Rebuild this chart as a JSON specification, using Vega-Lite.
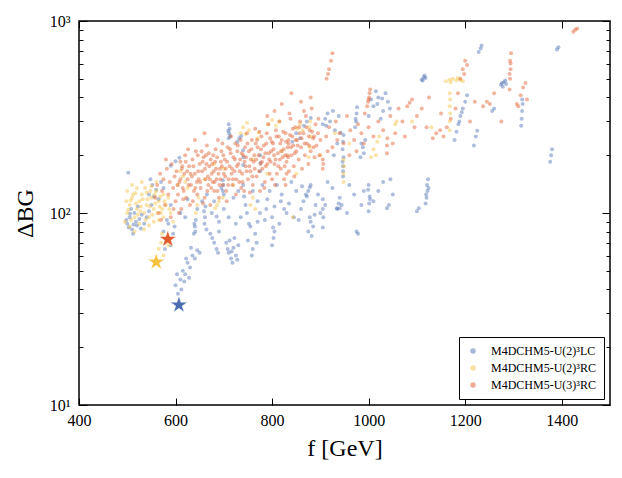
{
  "$schema": "https://vega.github.io/schema/vega-lite/v6.json",
  "width": 531,
  "height": 384,
  "autosize": "none",
  "padding": {"left": 79, "top": 21, "right": 12, "bottom": 73},
  "background": "white",
  "datasets": {
    "stars": [
      {"f": 607, "d": 33.2, "s": "LC"},
      {"f": 560, "d": 55.6, "s": "RC2"},
      {"f": 584, "d": 73, "s": "RC3"}
    ],
    "pts": [
      {"f":500,"d":88,"s":"LC"},{"f":505,"d":95,"s":"LC"},{"f":510,"d":82,"s":"LC"},{"f":498,"d":92,"s":"LC"},{"f":515,"d":100,"s":"LC"},{"f":520,"d":86,"s":"LC"},{"f":508,"d":105,"s":"LC"},{"f":525,"d":93,"s":"LC"},{"f":512,"d":78,"s":"LC"},{"f":530,"d":98,"s":"LC"},{"f":503,"d":84,"s":"LC"},{"f":518,"d":90,"s":"LC"},{"f":535,"d":88,"s":"LC"},{"f":522,"d":108,"s":"LC"},{"f":540,"d":95,"s":"LC"},{"f":545,"d":102,"s":"LC"},{"f":528,"d":83,"s":"LC"},{"f":506,"d":99,"s":"LC"},{"f":550,"d":110,"s":"LC"},{"f":513,"d":87,"s":"LC"},
      {"f":502,"d":162,"s":"LC"},
      {"f":545,"d":125,"s":"LC"},{"f":552,"d":140,"s":"LC"},{"f":560,"d":132,"s":"LC"},{"f":565,"d":118,"s":"LC"},{"f":548,"d":150,"s":"LC"},{"f":570,"d":145,"s":"LC"},{"f":555,"d":122,"s":"LC"},{"f":575,"d":135,"s":"LC"},
      {"f":575,"d":80,"s":"LC"},{"f":580,"d":72,"s":"LC"},{"f":585,"d":88,"s":"LC"},{"f":590,"d":68,"s":"LC"},{"f":595,"d":78,"s":"LC"},{"f":582,"d":92,"s":"LC"},{"f":598,"d":85,"s":"LC"},{"f":578,"d":65,"s":"LC"},
      {"f":600,"d":42,"s":"LC"},{"f":605,"d":38,"s":"LC"},{"f":610,"d":45,"s":"LC"},{"f":615,"d":50,"s":"LC"},{"f":620,"d":48,"s":"LC"},{"f":625,"d":55,"s":"LC"},{"f":630,"d":52,"s":"LC"},{"f":612,"d":40,"s":"LC"},{"f":635,"d":60,"s":"LC"},{"f":640,"d":58,"s":"LC"},{"f":645,"d":64,"s":"LC"},{"f":618,"d":44,"s":"LC"},{"f":628,"d":46,"s":"LC"},{"f":650,"d":62,"s":"LC"},{"f":603,"d":48,"s":"LC"},{"f":622,"d":58,"s":"LC"},{"f":632,"d":66,"s":"LC"},
      {"f":705,"d":70,"s":"LC"},{"f":710,"d":62,"s":"LC"},{"f":715,"d":58,"s":"LC"},{"f":720,"d":66,"s":"LC"},{"f":725,"d":60,"s":"LC"},{"f":712,"d":72,"s":"LC"},{"f":718,"d":55,"s":"LC"},{"f":730,"d":68,"s":"LC"},{"f":708,"d":65,"s":"LC"},{"f":722,"d":74,"s":"LC"},{"f":716,"d":63,"s":"LC"},{"f":728,"d":57,"s":"LC"},
      {"f":672,"d":78,"s":"LC"},{"f":680,"d":70,"s":"LC"},{"f":685,"d":65,"s":"LC"},{"f":690,"d":80,"s":"LC"},{"f":676,"d":74,"s":"LC"},{"f":688,"d":62,"s":"LC"},
      {"f":638,"d":78,"s":"LC"},{"f":640,"d":85,"s":"LC"},{"f":642,"d":92,"s":"LC"},{"f":639,"d":88,"s":"LC"},{"f":641,"d":80,"s":"LC"},
      {"f":660,"d":88,"s":"LC"},{"f":661,"d":95,"s":"LC"},{"f":659,"d":102,"s":"LC"},{"f":662,"d":108,"s":"LC"},{"f":664,"d":82,"s":"LC"},
      {"f":750,"d":72,"s":"LC"},{"f":755,"d":85,"s":"LC"},{"f":760,"d":65,"s":"LC"},{"f":765,"d":78,"s":"LC"},{"f":770,"d":90,"s":"LC"},{"f":758,"d":60,"s":"LC"},{"f":768,"d":70,"s":"LC"},{"f":752,"d":88,"s":"LC"},
      {"f":800,"d":68,"s":"LC"},{"f":803,"d":74,"s":"LC"},{"f":805,"d":80,"s":"LC"},{"f":802,"d":84,"s":"LC"},
      {"f":875,"d":80,"s":"LC"},{"f":880,"d":90,"s":"LC"},{"f":885,"d":85,"s":"LC"},{"f":878,"d":95,"s":"LC"},{"f":882,"d":76,"s":"LC"},{"f":888,"d":98,"s":"LC"},
      {"f":590,"d":110,"s":"LC"},{"f":610,"d":100,"s":"LC"},{"f":625,"d":118,"s":"LC"},{"f":645,"d":105,"s":"LC"},{"f":665,"d":125,"s":"LC"},{"f":680,"d":115,"s":"LC"},{"f":700,"d":105,"s":"LC"},{"f":720,"d":120,"s":"LC"},{"f":735,"d":95,"s":"LC"},{"f":745,"d":110,"s":"LC"},{"f":760,"d":130,"s":"LC"},{"f":775,"d":100,"s":"LC"},{"f":790,"d":118,"s":"LC"},{"f":805,"d":108,"s":"LC"},{"f":820,"d":125,"s":"LC"},{"f":835,"d":112,"s":"LC"},{"f":850,"d":130,"s":"LC"},{"f":865,"d":115,"s":"LC"},{"f":880,"d":140,"s":"LC"},{"f":895,"d":125,"s":"LC"},{"f":910,"d":110,"s":"LC"},{"f":925,"d":135,"s":"LC"},{"f":940,"d":120,"s":"LC"},{"f":955,"d":100,"s":"LC"},{"f":970,"d":125,"s":"LC"},{"f":985,"d":110,"s":"LC"},{"f":1000,"d":140,"s":"LC"},{"f":690,"d":90,"s":"LC"},{"f":710,"d":95,"s":"LC"},{"f":730,"d":130,"s":"LC"},{"f":780,"d":140,"s":"LC"},{"f":800,"d":95,"s":"LC"},{"f":815,"d":88,"s":"LC"},{"f":830,"d":100,"s":"LC"},{"f":845,"d":95,"s":"LC"},{"f":860,"d":105,"s":"LC"},{"f":900,"d":100,"s":"LC"},{"f":620,"d":95,"s":"LC"},{"f":655,"d":115,"s":"LC"},{"f":675,"d":100,"s":"LC"},{"f":695,"d":135,"s":"LC"},{"f":740,"d":140,"s":"LC"},{"f":770,"d":115,"s":"LC"},{"f":795,"d":130,"s":"LC"},{"f":810,"d":140,"s":"LC"},{"f":840,"d":145,"s":"LC"},{"f":870,"d":125,"s":"LC"},{"f":890,"d":110,"s":"LC"},{"f":915,"d":145,"s":"LC"},{"f":935,"d":105,"s":"LC"},{"f":960,"d":140,"s":"LC"},{"f":990,"d":130,"s":"LC"},{"f":1010,"d":115,"s":"LC"},
      {"f":685,"d":96,"s":"LC"},{"f":725,"d":88,"s":"LC"},{"f":748,"d":100,"s":"LC"},{"f":785,"d":92,"s":"LC"},{"f":825,"d":105,"s":"LC"},{"f":855,"d":92,"s":"LC"},{"f":700,"d":125,"s":"LC"},{"f":742,"d":122,"s":"LC"},{"f":788,"d":105,"s":"LC"},{"f":818,"d":115,"s":"LC"},{"f":862,"d":138,"s":"LC"},{"f":905,"d":118,"s":"LC"},
      {"f":710,"d":245,"s":"LC"},{"f":711,"d":260,"s":"LC"},{"f":712,"d":275,"s":"LC"},{"f":710,"d":290,"s":"LC"},{"f":713,"d":252,"s":"LC"},{"f":709,"d":268,"s":"LC"},
      {"f":728,"d":235,"s":"LC"},{"f":732,"d":245,"s":"LC"},{"f":736,"d":252,"s":"LC"},
      {"f":740,"d":178,"s":"LC"},{"f":741,"d":195,"s":"LC"},{"f":740,"d":212,"s":"LC"},
      {"f":775,"d":165,"s":"LC"},{"f":776,"d":182,"s":"LC"},{"f":775,"d":200,"s":"LC"},
      {"f":698,"d":130,"s":"LC"},{"f":699,"d":140,"s":"LC"},{"f":698,"d":148,"s":"LC"},
      {"f":905,"d":84,"s":"LC"},{"f":906,"d":95,"s":"LC"},{"f":905,"d":105,"s":"LC"},{"f":934,"d":106,"s":"LC"},
      {"f":872,"d":122,"s":"LC"},{"f":875,"d":130,"s":"LC"},{"f":878,"d":136,"s":"LC"},
      {"f":590,"d":176,"s":"LC"},{"f":600,"d":186,"s":"LC"},{"f":608,"d":194,"s":"LC"},
      {"f":866,"d":285,"s":"LC"},{"f":872,"d":300,"s":"LC"},{"f":880,"d":312,"s":"LC"},
      {"f":905,"d":290,"s":"LC"},{"f":910,"d":310,"s":"LC"},{"f":915,"d":330,"s":"LC"},{"f":920,"d":300,"s":"LC"},{"f":926,"d":340,"s":"LC"},{"f":912,"d":285,"s":"LC"},{"f":930,"d":270,"s":"LC"},{"f":938,"d":320,"s":"LC"},
      {"f":947,"d":155,"s":"LC"},{"f":947,"d":175,"s":"LC"},{"f":948,"d":195,"s":"LC"},{"f":946,"d":215,"s":"LC"},{"f":947,"d":235,"s":"LC"},{"f":948,"d":255,"s":"LC"},{"f":947,"d":165,"s":"LC"},{"f":946,"d":185,"s":"LC"},
      {"f":972,"d":280,"s":"LC"},{"f":974,"d":300,"s":"LC"},{"f":975,"d":330,"s":"LC"},{"f":976,"d":355,"s":"LC"},{"f":973,"d":310,"s":"LC"},
      {"f":983,"d":195,"s":"LC"},{"f":988,"d":220,"s":"LC"},{"f":993,"d":240,"s":"LC"},{"f":990,"d":205,"s":"LC"},{"f":985,"d":230,"s":"LC"},
      {"f":1000,"d":320,"s":"LC"},{"f":1010,"d":360,"s":"LC"},{"f":1020,"d":400,"s":"LC"},{"f":1030,"d":340,"s":"LC"},{"f":1040,"d":380,"s":"LC"},{"f":1015,"d":430,"s":"LC"},{"f":1025,"d":310,"s":"LC"},{"f":1035,"d":420,"s":"LC"},{"f":1005,"d":390,"s":"LC"},{"f":1044,"d":350,"s":"LC"},{"f":1018,"d":370,"s":"LC"},{"f":1028,"d":395,"s":"LC"},
      {"f":1000,"d":102,"s":"LC"},{"f":1001,"d":112,"s":"LC"},{"f":1002,"d":122,"s":"LC"},{"f":999,"d":132,"s":"LC"},{"f":1003,"d":118,"s":"LC"},
      {"f":1100,"d":102,"s":"LC"},{"f":1104,"d":106,"s":"LC"},{"f":1038,"d":106,"s":"LC"},{"f":1042,"d":110,"s":"LC"},{"f":975,"d":80,"s":"LC"},{"f":978,"d":78,"s":"LC"},{"f":940,"d":106,"s":"LC"},{"f":944,"d":110,"s":"LC"},{"f":938,"d":112,"s":"LC"},
      {"f":1118,"d":112,"s":"LC"},{"f":1120,"d":120,"s":"LC"},{"f":1122,"d":130,"s":"LC"},{"f":1121,"d":140,"s":"LC"},{"f":1123,"d":150,"s":"LC"},{"f":1119,"d":125,"s":"LC"},{"f":1124,"d":135,"s":"LC"},
      {"f":1110,"d":495,"s":"LC"},{"f":1114,"d":510,"s":"LC"},{"f":1116,"d":520,"s":"LC"},{"f":1112,"d":490,"s":"LC"},{"f":1118,"d":505,"s":"LC"},
      {"f":1178,"d":240,"s":"LC"},{"f":1182,"d":265,"s":"LC"},{"f":1186,"d":290,"s":"LC"},{"f":1190,"d":320,"s":"LC"},{"f":1195,"d":350,"s":"LC"},{"f":1200,"d":380,"s":"LC"},{"f":1204,"d":410,"s":"LC"},{"f":1188,"d":300,"s":"LC"},{"f":1193,"d":335,"s":"LC"},
      {"f":1218,"d":225,"s":"LC"},{"f":1222,"d":250,"s":"LC"},{"f":1225,"d":268,"s":"LC"},
      {"f":1228,"d":690,"s":"LC"},{"f":1232,"d":720,"s":"LC"},{"f":1234,"d":745,"s":"LC"},
      {"f":1256,"d":340,"s":"LC"},{"f":1260,"d":350,"s":"LC"},
      {"f":1274,"d":465,"s":"LC"},{"f":1280,"d":480,"s":"LC"},{"f":1285,"d":470,"s":"LC"},{"f":1278,"d":455,"s":"LC"},{"f":1283,"d":490,"s":"LC"},{"f":1276,"d":475,"s":"LC"},
      {"f":1316,"d":285,"s":"LC"},{"f":1317,"d":310,"s":"LC"},{"f":1318,"d":340,"s":"LC"},{"f":1319,"d":370,"s":"LC"},{"f":1318,"d":390,"s":"LC"},
      {"f":1376,"d":185,"s":"LC"},{"f":1378,"d":200,"s":"LC"},{"f":1380,"d":215,"s":"LC"},
      {"f":1390,"d":710,"s":"LC"},{"f":1393,"d":730,"s":"LC"},
      {"f":1020,"d":130,"s":"LC"},{"f":1030,"d":145,"s":"LC"},{"f":1045,"d":150,"s":"LC"},{"f":1050,"d":125,"s":"LC"},
      {"f":928,"d":200,"s":"LC"},{"f":935,"d":230,"s":"LC"},{"f":942,"d":262,"s":"LC"},
      {"f":842,"d":235,"s":"LC"},{"f":850,"d":260,"s":"LC"},{"f":858,"d":245,"s":"LC"},
      {"f":495,"d":90,"s":"RC2"},{"f":500,"d":100,"s":"RC2"},{"f":505,"d":110,"s":"RC2"},{"f":510,"d":120,"s":"RC2"},{"f":515,"d":95,"s":"RC2"},{"f":520,"d":105,"s":"RC2"},{"f":525,"d":115,"s":"RC2"},{"f":530,"d":125,"s":"RC2"},{"f":535,"d":100,"s":"RC2"},{"f":540,"d":110,"s":"RC2"},{"f":545,"d":95,"s":"RC2"},{"f":550,"d":120,"s":"RC2"},{"f":555,"d":105,"s":"RC2"},{"f":560,"d":130,"s":"RC2"},{"f":565,"d":115,"s":"RC2"},{"f":570,"d":100,"s":"RC2"},{"f":575,"d":125,"s":"RC2"},{"f":580,"d":110,"s":"RC2"},{"f":500,"d":130,"s":"RC2"},{"f":510,"d":140,"s":"RC2"},{"f":520,"d":135,"s":"RC2"},{"f":530,"d":145,"s":"RC2"},{"f":540,"d":128,"s":"RC2"},{"f":550,"d":138,"s":"RC2"},{"f":560,"d":145,"s":"RC2"},{"f":505,"d":85,"s":"RC2"},{"f":515,"d":80,"s":"RC2"},{"f":525,"d":88,"s":"RC2"},{"f":535,"d":82,"s":"RC2"},{"f":545,"d":86,"s":"RC2"},{"f":555,"d":90,"s":"RC2"},{"f":565,"d":92,"s":"RC2"},{"f":575,"d":95,"s":"RC2"},{"f":498,"d":115,"s":"RC2"},{"f":512,"d":125,"s":"RC2"},{"f":528,"d":108,"s":"RC2"},{"f":542,"d":118,"s":"RC2"},{"f":558,"d":112,"s":"RC2"},{"f":572,"d":105,"s":"RC2"},{"f":585,"d":120,"s":"RC2"},{"f":590,"d":100,"s":"RC2"},{"f":595,"d":90,"s":"RC2"},{"f":508,"d":92,"s":"RC2"},{"f":518,"d":112,"s":"RC2"},{"f":538,"d":92,"s":"RC2"},{"f":548,"d":130,"s":"RC2"},{"f":532,"d":118,"s":"RC2"},{"f":522,"d":98,"s":"RC2"},{"f":502,"d":104,"s":"RC2"},{"f":552,"d":98,"s":"RC2"},{"f":568,"d":122,"s":"RC2"},
      {"f":507,"d":116,"s":"RC2"},{"f":517,"d":127,"s":"RC2"},{"f":527,"d":102,"s":"RC2"},{"f":537,"d":135,"s":"RC2"},{"f":547,"d":108,"s":"RC2"},{"f":557,"d":125,"s":"RC2"},{"f":567,"d":108,"s":"RC2"},{"f":577,"d":115,"s":"RC2"},{"f":587,"d":105,"s":"RC2"},{"f":562,"d":100,"s":"RC2"},
      {"f":565,"d":65,"s":"RC2"},{"f":570,"d":70,"s":"RC2"},{"f":575,"d":60,"s":"RC2"},{"f":580,"d":75,"s":"RC2"},{"f":572,"d":78,"s":"RC2"},{"f":585,"d":68,"s":"RC2"},
      {"f":642,"d":100,"s":"RC2"},{"f":645,"d":110,"s":"RC2"},{"f":648,"d":120,"s":"RC2"},{"f":682,"d":106,"s":"RC2"},{"f":690,"d":115,"s":"RC2"},{"f":698,"d":120,"s":"RC2"},{"f":686,"d":110,"s":"RC2"},
      {"f":605,"d":140,"s":"RC2"},{"f":615,"d":155,"s":"RC2"},{"f":625,"d":135,"s":"RC2"},{"f":610,"d":165,"s":"RC2"},{"f":620,"d":145,"s":"RC2"},
      {"f":735,"d":260,"s":"RC2"},{"f":740,"d":280,"s":"RC2"},{"f":748,"d":295,"s":"RC2"},{"f":752,"d":270,"s":"RC2"},{"f":745,"d":258,"s":"RC2"},
      {"f":792,"d":290,"s":"RC2"},{"f":800,"d":305,"s":"RC2"},{"f":808,"d":285,"s":"RC2"},{"f":815,"d":300,"s":"RC2"},
      {"f":876,"d":195,"s":"RC2"},{"f":878,"d":220,"s":"RC2"},{"f":880,"d":250,"s":"RC2"},{"f":877,"d":280,"s":"RC2"},{"f":879,"d":300,"s":"RC2"},
      {"f":948,"d":145,"s":"RC2"},{"f":948,"d":160,"s":"RC2"},{"f":949,"d":175,"s":"RC2"},{"f":948,"d":190,"s":"RC2"},
      {"f":1005,"d":195,"s":"RC2"},{"f":1010,"d":215,"s":"RC2"},{"f":1018,"d":235,"s":"RC2"},{"f":1022,"d":250,"s":"RC2"},{"f":1015,"d":200,"s":"RC2"},
      {"f":1055,"d":290,"s":"RC2"},{"f":1058,"d":300,"s":"RC2"},
      {"f":1160,"d":485,"s":"RC2"},{"f":1168,"d":495,"s":"RC2"},{"f":1175,"d":500,"s":"RC2"},{"f":1182,"d":490,"s":"RC2"},{"f":1190,"d":495,"s":"RC2"},{"f":1195,"d":485,"s":"RC2"},{"f":1170,"d":480,"s":"RC2"},{"f":1185,"d":505,"s":"RC2"},
      {"f":1168,"d":270,"s":"RC2"},{"f":1168,"d":300,"s":"RC2"},{"f":1169,"d":330,"s":"RC2"},{"f":1168,"d":360,"s":"RC2"},{"f":1169,"d":390,"s":"RC2"},{"f":1168,"d":420,"s":"RC2"},
      {"f":660,"d":150,"s":"RC2"},{"f":700,"d":170,"s":"RC2"},{"f":760,"d":190,"s":"RC2"},{"f":820,"d":210,"s":"RC2"},{"f":850,"d":160,"s":"RC2"},{"f":900,"d":200,"s":"RC2"},{"f":930,"d":260,"s":"RC2"},{"f":960,"d":230,"s":"RC2"},{"f":1090,"d":300,"s":"RC2"},{"f":1130,"d":280,"s":"RC2"},{"f":720,"d":140,"s":"RC2"},{"f":680,"d":180,"s":"RC2"},{"f":790,"d":160,"s":"RC2"},
      {"f":755,"d":110,"s":"RC2"},{"f":760,"d":120,"s":"RC2"},{"f":765,"d":105,"s":"RC2"},
      {"f":852,"d":275,"s":"RC2"},{"f":858,"d":290,"s":"RC2"},{"f":863,"d":270,"s":"RC2"},{"f":843,"d":95,"s":"RC2"},{"f":770,"d":245,"s":"RC2"},{"f":772,"d":262,"s":"RC2"},
      {"f":558,"d":120,"s":"RC3"},{"f":562,"d":140,"s":"RC3"},{"f":565,"d":100,"s":"RC3"},{"f":568,"d":160,"s":"RC3"},{"f":572,"d":130,"s":"RC3"},{"f":575,"d":150,"s":"RC3"},{"f":578,"d":110,"s":"RC3"},{"f":582,"d":170,"s":"RC3"},{"f":585,"d":125,"s":"RC3"},{"f":588,"d":145,"s":"RC3"},{"f":590,"d":95,"s":"RC3"},{"f":592,"d":180,"s":"RC3"},{"f":595,"d":135,"s":"RC3"},{"f":598,"d":155,"s":"RC3"},{"f":600,"d":115,"s":"RC3"},{"f":570,"d":92,"s":"RC3"},{"f":580,"d":190,"s":"RC3"},{"f":596,"d":105,"s":"RC3"},
      {"f":602,"d":165,"s":"RC3"},{"f":605,"d":125,"s":"RC3"},{"f":608,"d":145,"s":"RC3"},{"f":610,"d":185,"s":"RC3"},{"f":612,"d":105,"s":"RC3"},{"f":615,"d":135,"s":"RC3"},{"f":618,"d":160,"s":"RC3"},{"f":620,"d":200,"s":"RC3"},{"f":622,"d":120,"s":"RC3"},{"f":625,"d":150,"s":"RC3"},{"f":628,"d":175,"s":"RC3"},{"f":630,"d":110,"s":"RC3"},{"f":632,"d":140,"s":"RC3"},{"f":635,"d":190,"s":"RC3"},{"f":638,"d":130,"s":"RC3"},{"f":640,"d":160,"s":"RC3"},{"f":642,"d":210,"s":"RC3"},{"f":645,"d":125,"s":"RC3"},{"f":648,"d":150,"s":"RC3"},{"f":650,"d":180,"s":"RC3"},{"f":604,"d":140,"s":"RC3"},{"f":614,"d":175,"s":"RC3"},{"f":624,"d":165,"s":"RC3"},{"f":634,"d":155,"s":"RC3"},{"f":644,"d":145,"s":"RC3"},{"f":607,"d":100,"s":"RC3"},{"f":626,"d":215,"s":"RC3"},{"f":646,"d":200,"s":"RC3"},{"f":636,"d":115,"s":"RC3"},{"f":616,"d":118,"s":"RC3"},{"f":640,"d":240,"s":"RC3"},
      {"f":652,"d":135,"s":"RC3"},{"f":655,"d":165,"s":"RC3"},{"f":658,"d":195,"s":"RC3"},{"f":660,"d":120,"s":"RC3"},{"f":662,"d":150,"s":"RC3"},{"f":665,"d":225,"s":"RC3"},{"f":668,"d":140,"s":"RC3"},{"f":670,"d":175,"s":"RC3"},{"f":672,"d":110,"s":"RC3"},{"f":675,"d":160,"s":"RC3"},{"f":678,"d":200,"s":"RC3"},{"f":680,"d":130,"s":"RC3"},{"f":682,"d":185,"s":"RC3"},{"f":685,"d":150,"s":"RC3"},{"f":688,"d":240,"s":"RC3"},{"f":690,"d":120,"s":"RC3"},{"f":692,"d":170,"s":"RC3"},{"f":695,"d":210,"s":"RC3"},{"f":698,"d":140,"s":"RC3"},{"f":700,"d":160,"s":"RC3"},{"f":654,"d":210,"s":"RC3"},{"f":664,"d":180,"s":"RC3"},{"f":674,"d":135,"s":"RC3"},{"f":684,"d":170,"s":"RC3"},{"f":694,"d":185,"s":"RC3"},{"f":657,"d":112,"s":"RC3"},{"f":667,"d":155,"s":"RC3"},{"f":677,"d":145,"s":"RC3"},{"f":687,"d":130,"s":"RC3"},{"f":697,"d":230,"s":"RC3"},{"f":663,"d":200,"s":"RC3"},{"f":683,"d":215,"s":"RC3"},{"f":673,"d":190,"s":"RC3"},{"f":693,"d":150,"s":"RC3"},{"f":660,"d":260,"s":"RC3"},
      {"f":702,"d":190,"s":"RC3"},{"f":705,"d":130,"s":"RC3"},{"f":708,"d":220,"s":"RC3"},{"f":710,"d":150,"s":"RC3"},{"f":712,"d":175,"s":"RC3"},{"f":715,"d":250,"s":"RC3"},{"f":718,"d":140,"s":"RC3"},{"f":720,"d":195,"s":"RC3"},{"f":722,"d":165,"s":"RC3"},{"f":725,"d":125,"s":"RC3"},{"f":728,"d":210,"s":"RC3"},{"f":730,"d":180,"s":"RC3"},{"f":732,"d":145,"s":"RC3"},{"f":735,"d":240,"s":"RC3"},{"f":738,"d":160,"s":"RC3"},{"f":740,"d":200,"s":"RC3"},{"f":742,"d":130,"s":"RC3"},{"f":745,"d":175,"s":"RC3"},{"f":748,"d":260,"s":"RC3"},{"f":750,"d":150,"s":"RC3"},{"f":704,"d":170,"s":"RC3"},{"f":714,"d":205,"s":"RC3"},{"f":724,"d":230,"s":"RC3"},{"f":734,"d":190,"s":"RC3"},{"f":744,"d":220,"s":"RC3"},{"f":706,"d":115,"s":"RC3"},{"f":716,"d":160,"s":"RC3"},{"f":726,"d":150,"s":"RC3"},{"f":736,"d":135,"s":"RC3"},{"f":746,"d":195,"s":"RC3"},
      {"f":752,"d":210,"s":"RC3"},{"f":755,"d":165,"s":"RC3"},{"f":758,"d":240,"s":"RC3"},{"f":760,"d":140,"s":"RC3"},{"f":762,"d":185,"s":"RC3"},{"f":765,"d":275,"s":"RC3"},{"f":768,"d":155,"s":"RC3"},{"f":770,"d":220,"s":"RC3"},{"f":772,"d":200,"s":"RC3"},{"f":775,"d":130,"s":"RC3"},{"f":778,"d":250,"s":"RC3"},{"f":780,"d":170,"s":"RC3"},{"f":782,"d":195,"s":"RC3"},{"f":785,"d":145,"s":"RC3"},{"f":788,"d":230,"s":"RC3"},{"f":790,"d":180,"s":"RC3"},{"f":792,"d":290,"s":"RC3"},{"f":795,"d":160,"s":"RC3"},{"f":798,"d":210,"s":"RC3"},{"f":800,"d":150,"s":"RC3"},{"f":756,"d":190,"s":"RC3"},{"f":766,"d":230,"s":"RC3"},{"f":776,"d":180,"s":"RC3"},{"f":786,"d":205,"s":"RC3"},{"f":796,"d":245,"s":"RC3"},{"f":754,"d":128,"s":"RC3"},{"f":764,"d":170,"s":"RC3"},{"f":774,"d":265,"s":"RC3"},{"f":784,"d":135,"s":"RC3"},{"f":794,"d":190,"s":"RC3"},{"f":790,"d":320,"s":"RC3"},
      {"f":802,"d":230,"s":"RC3"},{"f":805,"d":180,"s":"RC3"},{"f":808,"d":270,"s":"RC3"},{"f":810,"d":160,"s":"RC3"},{"f":812,"d":205,"s":"RC3"},{"f":815,"d":300,"s":"RC3"},{"f":818,"d":170,"s":"RC3"},{"f":820,"d":240,"s":"RC3"},{"f":822,"d":195,"s":"RC3"},{"f":825,"d":150,"s":"RC3"},{"f":828,"d":260,"s":"RC3"},{"f":830,"d":185,"s":"RC3"},{"f":832,"d":220,"s":"RC3"},{"f":835,"d":165,"s":"RC3"},{"f":838,"d":310,"s":"RC3"},{"f":840,"d":200,"s":"RC3"},{"f":842,"d":250,"s":"RC3"},{"f":845,"d":175,"s":"RC3"},{"f":848,"d":280,"s":"RC3"},{"f":850,"d":210,"s":"RC3"},{"f":804,"d":200,"s":"RC3"},{"f":814,"d":250,"s":"RC3"},{"f":824,"d":215,"s":"RC3"},{"f":834,"d":240,"s":"RC3"},{"f":844,"d":225,"s":"RC3"},{"f":806,"d":140,"s":"RC3"},{"f":826,"d":175,"s":"RC3"},{"f":836,"d":330,"s":"RC3"},{"f":846,"d":155,"s":"RC3"},{"f":816,"d":190,"s":"RC3"},{"f":805,"d":340,"s":"RC3"},{"f":820,"d":370,"s":"RC3"},{"f":840,"d":420,"s":"RC3"},
      {"f":852,"d":240,"s":"RC3"},{"f":855,"d":190,"s":"RC3"},{"f":858,"d":300,"s":"RC3"},{"f":860,"d":220,"s":"RC3"},{"f":862,"d":170,"s":"RC3"},{"f":865,"d":260,"s":"RC3"},{"f":868,"d":200,"s":"RC3"},{"f":870,"d":320,"s":"RC3"},{"f":872,"d":230,"s":"RC3"},{"f":875,"d":180,"s":"RC3"},{"f":878,"d":270,"s":"RC3"},{"f":880,"d":210,"s":"RC3"},{"f":882,"d":350,"s":"RC3"},{"f":885,"d":245,"s":"RC3"},{"f":888,"d":195,"s":"RC3"},{"f":890,"d":290,"s":"RC3"},{"f":892,"d":225,"s":"RC3"},{"f":895,"d":260,"s":"RC3"},{"f":898,"d":200,"s":"RC3"},{"f":900,"d":240,"s":"RC3"},{"f":856,"d":280,"s":"RC3"},{"f":866,"d":340,"s":"RC3"},{"f":876,"d":250,"s":"RC3"},{"f":886,"d":220,"s":"RC3"},{"f":896,"d":310,"s":"RC3"},{"f":860,"d":380,"s":"RC3"},{"f":880,"d":400,"s":"RC3"},
      {"f":610,"d":150,"s":"RC3"},{"f":613,"d":170,"s":"RC3"},{"f":617,"d":130,"s":"RC3"},{"f":621,"d":185,"s":"RC3"},{"f":627,"d":140,"s":"RC3"},{"f":631,"d":160,"s":"RC3"},{"f":637,"d":175,"s":"RC3"},{"f":641,"d":135,"s":"RC3"},{"f":647,"d":165,"s":"RC3"},{"f":651,"d":145,"s":"RC3"},{"f":656,"d":185,"s":"RC3"},{"f":661,"d":170,"s":"RC3"},{"f":666,"d":130,"s":"RC3"},{"f":669,"d":205,"s":"RC3"},{"f":671,"d":150,"s":"RC3"},{"f":676,"d":180,"s":"RC3"},{"f":679,"d":165,"s":"RC3"},{"f":681,"d":145,"s":"RC3"},{"f":686,"d":195,"s":"RC3"},{"f":689,"d":160,"s":"RC3"},{"f":691,"d":140,"s":"RC3"},{"f":696,"d":175,"s":"RC3"},{"f":699,"d":200,"s":"RC3"},{"f":703,"d":155,"s":"RC3"},{"f":707,"d":185,"s":"RC3"},{"f":709,"d":140,"s":"RC3"},{"f":713,"d":215,"s":"RC3"},{"f":717,"d":170,"s":"RC3"},{"f":719,"d":150,"s":"RC3"},{"f":723,"d":190,"s":"RC3"},{"f":727,"d":175,"s":"RC3"},{"f":729,"d":225,"s":"RC3"},{"f":733,"d":165,"s":"RC3"},{"f":737,"d":205,"s":"RC3"},{"f":739,"d":145,"s":"RC3"},{"f":743,"d":185,"s":"RC3"},{"f":747,"d":165,"s":"RC3"},{"f":749,"d":230,"s":"RC3"},{"f":753,"d":175,"s":"RC3"},{"f":757,"d":215,"s":"RC3"},{"f":759,"d":155,"s":"RC3"},{"f":763,"d":200,"s":"RC3"},{"f":767,"d":190,"s":"RC3"},{"f":769,"d":240,"s":"RC3"},{"f":773,"d":165,"s":"RC3"},{"f":777,"d":215,"s":"RC3"},{"f":779,"d":185,"s":"RC3"},{"f":783,"d":225,"s":"RC3"},{"f":787,"d":175,"s":"RC3"},{"f":789,"d":260,"s":"RC3"},{"f":793,"d":205,"s":"RC3"},{"f":797,"d":185,"s":"RC3"},{"f":799,"d":235,"s":"RC3"},{"f":803,"d":215,"s":"RC3"},{"f":807,"d":190,"s":"RC3"},{"f":809,"d":250,"s":"RC3"},{"f":813,"d":175,"s":"RC3"},{"f":817,"d":230,"s":"RC3"},{"f":819,"d":210,"s":"RC3"},{"f":823,"d":265,"s":"RC3"},{"f":827,"d":200,"s":"RC3"},{"f":829,"d":235,"s":"RC3"},{"f":833,"d":195,"s":"RC3"},{"f":837,"d":255,"s":"RC3"},{"f":839,"d":220,"s":"RC3"},{"f":843,"d":275,"s":"RC3"},{"f":847,"d":205,"s":"RC3"},{"f":849,"d":240,"s":"RC3"},{"f":853,"d":225,"s":"RC3"},{"f":857,"d":260,"s":"RC3"},{"f":861,"d":245,"s":"RC3"},{"f":867,"d":230,"s":"RC3"},{"f":871,"d":280,"s":"RC3"},{"f":877,"d":225,"s":"RC3"},{"f":883,"d":265,"s":"RC3"},{"f":887,"d":250,"s":"RC3"},{"f":828,"d":140,"s":"RC3"},{"f":830,"d":160,"s":"RC3"},{"f":832,"d":200,"s":"RC3"},{"f":834,"d":230,"s":"RC3"},
      {"f":905,"d":170,"s":"RC3"},{"f":905,"d":190,"s":"RC3"},{"f":906,"d":180,"s":"RC3"},{"f":912,"d":250,"s":"RC3"},{"f":918,"d":280,"s":"RC3"},{"f":925,"d":220,"s":"RC3"},{"f":932,"d":300,"s":"RC3"},{"f":940,"d":260,"s":"RC3"},{"f":948,"d":230,"s":"RC3"},{"f":955,"d":320,"s":"RC3"},{"f":962,"d":270,"s":"RC3"},{"f":970,"d":240,"s":"RC3"},{"f":978,"d":290,"s":"RC3"},{"f":985,"d":260,"s":"RC3"},{"f":992,"d":330,"s":"RC3"},{"f":1000,"d":280,"s":"RC3"},{"f":915,"d":210,"s":"RC3"},{"f":935,"d":240,"s":"RC3"},{"f":960,"d":200,"s":"RC3"},{"f":975,"d":210,"s":"RC3"},{"f":990,"d":230,"s":"RC3"},
      {"f":913,"d":500,"s":"RC3"},{"f":918,"d":560,"s":"RC3"},{"f":922,"d":620,"s":"RC3"},{"f":925,"d":680,"s":"RC3"},{"f":916,"d":530,"s":"RC3"},
      {"f":997,"d":360,"s":"RC3"},{"f":999,"d":380,"s":"RC3"},{"f":1001,"d":400,"s":"RC3"},{"f":1002,"d":420,"s":"RC3"},{"f":1003,"d":440,"s":"RC3"},{"f":1000,"d":390,"s":"RC3"},
      {"f":1010,"d":250,"s":"RC3"},{"f":1020,"d":300,"s":"RC3"},{"f":1030,"d":270,"s":"RC3"},{"f":1038,"d":205,"s":"RC3"},{"f":1038,"d":225,"s":"RC3"},{"f":1039,"d":245,"s":"RC3"},{"f":1045,"d":320,"s":"RC3"},{"f":1055,"d":260,"s":"RC3"},{"f":1062,"d":350,"s":"RC3"},{"f":1070,"d":300,"s":"RC3"},{"f":1080,"d":360,"s":"RC3"},{"f":1085,"d":375,"s":"RC3"},{"f":1090,"d":390,"s":"RC3"},{"f":1095,"d":280,"s":"RC3"},{"f":1100,"d":320,"s":"RC3"},{"f":1050,"d":230,"s":"RC3"},{"f":1075,"d":250,"s":"RC3"},
      {"f":1110,"d":350,"s":"RC3"},{"f":1120,"d":280,"s":"RC3"},{"f":1133,"d":245,"s":"RC3"},{"f":1140,"d":260,"s":"RC3"},{"f":1148,"d":270,"s":"RC3"},{"f":1155,"d":250,"s":"RC3"},{"f":1162,"d":280,"s":"RC3"},{"f":1170,"d":310,"s":"RC3"},{"f":1180,"d":350,"s":"RC3"},{"f":1190,"d":500,"s":"RC3"},{"f":1195,"d":560,"s":"RC3"},{"f":1200,"d":620,"s":"RC3"},{"f":1198,"d":530,"s":"RC3"},{"f":1204,"d":590,"s":"RC3"},{"f":1125,"d":400,"s":"RC3"},{"f":1150,"d":330,"s":"RC3"},{"f":1185,"d":420,"s":"RC3"},
      {"f":1210,"d":300,"s":"RC3"},{"f":1220,"d":380,"s":"RC3"},{"f":1237,"d":360,"s":"RC3"},{"f":1245,"d":380,"s":"RC3"},{"f":1251,"d":370,"s":"RC3"},{"f":1260,"d":420,"s":"RC3"},{"f":1275,"d":300,"s":"RC3"},{"f":1292,"d":440,"s":"RC3"},{"f":1293,"d":500,"s":"RC3"},{"f":1294,"d":560,"s":"RC3"},{"f":1293,"d":620,"s":"RC3"},{"f":1295,"d":680,"s":"RC3"},{"f":1292,"d":530,"s":"RC3"},{"f":1294,"d":600,"s":"RC3"},{"f":1307,"d":370,"s":"RC3"},{"f":1315,"d":410,"s":"RC3"},{"f":1320,"d":450,"s":"RC3"},{"f":1325,"d":475,"s":"RC3"},{"f":1328,"d":390,"s":"RC3"},{"f":1310,"d":360,"s":"RC3"},
      {"f":1424,"d":880,"s":"RC3"},{"f":1428,"d":900,"s":"RC3"},{"f":1432,"d":915,"s":"RC3"}
    ]
  },
  "layer": [
    {
      "data": {"name": "pts"},
      "mark": {"type": "point", "filled": true, "size": 16, "opacity": 0.45, "strokeWidth": 0},
      "encoding": {
        "x": {
          "field": "f", "type": "quantitative",
          "scale": {"domain": [400, 1500], "nice": false, "zero": false},
          "axis": {"orient": "bottom", "values": [400, 600, 800, 1000, 1200, 1400], "format": "d", "labelFlush": false, "tickSize": -7, "labelPadding": 14, "title": "f  [GeV]", "titlePadding": 8}
        },
        "y": {
          "field": "d", "type": "quantitative",
          "scale": {"type": "log", "domain": [10, 1000], "nice": false},
          "axis": {
            "orient": "left",
            "values": [10, 20, 30, 40, 50, 60, 70, 80, 90, 100, 200, 300, 400, 500, 600, 700, 800, 900, 1000],
            "labelExpr": "datum.value == 10 ? '10¹' : datum.value == 100 ? '10²' : datum.value == 1000 ? '10³' : ''",
            "labelFlush": false,
            "tickSize": {"condition": {"test": "datum.value == 10 || datum.value == 100 || datum.value == 1000", "value": -8}, "value": -4},
            "labelPadding": 17,
            "title": "ΔBG",
            "titlePadding": 12
          }
        },
        "color": {
          "field": "s", "type": "nominal",
          "scale": {"domain": ["LC", "RC2", "RC3"], "range": ["#4C6EB1", "#F4C23F", "#E05A2B"]},
          "legend": {
            "title": null,
            "orient": "bottom-right",
            "offset": 6,
            "labelExpr": "datum.label == 'LC' ? 'M4DCHM5-U(2)³LC' : datum.label == 'RC2' ? 'M4DCHM5-U(2)³RC' : 'M4DCHM5-U(3)³RC'"
          }
        }
      }
    },
    {
      "data": {"name": "stars"},
      "mark": {
        "type": "point", "filled": true, "size": 320, "opacity": 1, "stroke": "white", "strokeWidth": 0.5,
        "shape": "M0,-1L0.2245,-0.309L0.951,-0.309L0.363,0.118L0.588,0.809L0,0.382L-0.588,0.809L-0.363,0.118L-0.951,-0.309L-0.2245,-0.309Z"
      },
      "encoding": {
        "x": {"field": "f", "type": "quantitative", "axis": {"orient": "top", "values": [400, 600, 800, 1000, 1200, 1400], "tickSize": -7, "labels": false, "title": null}},
        "y": {
          "field": "d", "type": "quantitative",
          "axis": {
            "orient": "right",
            "values": [10, 20, 30, 40, 50, 60, 70, 80, 90, 100, 200, 300, 400, 500, 600, 700, 800, 900, 1000],
            "tickSize": {"condition": {"test": "datum.value == 10 || datum.value == 100 || datum.value == 1000", "value": -8}, "value": -4},
            "labels": false, "title": null
          }
        },
        "fill": {
          "field": "s", "type": "nominal",
          "scale": {"domain": ["LC", "RC2", "RC3"], "range": ["#4C6EB1", "#F4C23F", "#E05A2B"]},
          "legend": null
        }
      }
    }
  ],
  "resolve": {"axis": {"x": "independent", "y": "independent"}},
  "config": {
    "view": {"stroke": "black", "strokeWidth": 1.5},
    "font": "Liberation Serif",
    "axis": {
      "grid": false, "domain": false, "tickColor": "black", "tickWidth": 1,
      "labelColor": "black", "labelFont": "Liberation Serif", "labelFontSize": 16,
      "titleFont": "Liberation Serif", "titleFontSize": 24, "titleFontWeight": "normal", "titleColor": "black"
    },
    "legend": {
      "strokeColor": "black", "fillColor": "white", "padding": 8, "cornerRadius": 0,
      "labelFont": "Liberation Serif", "labelFontSize": 12, "labelColor": "black", "labelOffset": 12,
      "symbolSize": 30, "symbolOpacity": 0.5, "symbolStrokeWidth": 0, "rowPadding": 5
    }
  }
}
